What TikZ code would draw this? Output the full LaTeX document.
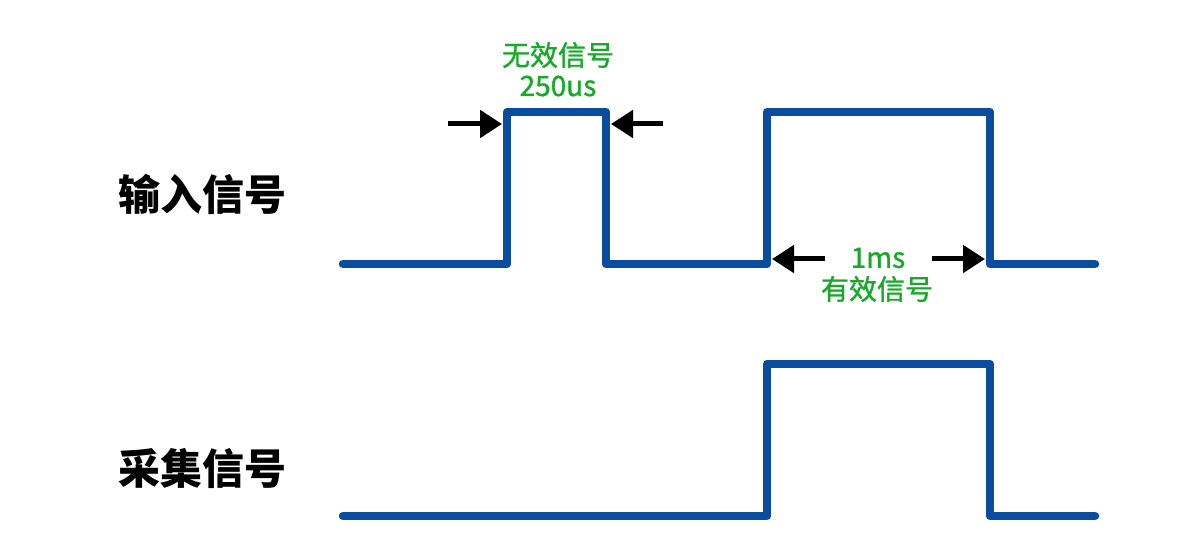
\documentclass[tikz,border=0pt]{standalone}
\usepackage{fontspec}
\setmainfont{Noto Sans CJK SC}
\newfontfamily\greenfont[FakeBold=1.2]{Noto Sans CJK SC}
\usetikzlibrary{arrows.meta}
\definecolor{sigblue}{RGB}{10,76,160}
\definecolor{txtgreen}{RGB}{22,170,40}
\tikzset{
  signal/.style={draw=sigblue, line width=8.5pt, line join=round, line cap=round},
  dimarrow/.style={draw=black, line width=5pt, -{Triangle[length=22pt,width=27pt]}},
  siglabel/.style={font=\fontsize{42}{46}\selectfont\bfseries, text=black, inner sep=0pt},
  greenlabel/.style={font=\greenfont\fontsize{28}{30}\selectfont, text=txtgreen, inner sep=0pt}
}
\begin{document}
\begin{tikzpicture}[x=1pt,y=-1pt]
\useasboundingbox (0,0) rectangle (1197,540);
% input signal
\coordinate (a0) at (343,264);
\coordinate (a1) at (507,264);
\coordinate (a2) at (507,112);
\coordinate (a3) at (606,112);
\coordinate (a4) at (606,264);
\coordinate (a5) at (767,264);
\coordinate (a6) at (767,112);
\coordinate (a7) at (990,112);
\coordinate (a8) at (990,264);
\coordinate (a9) at (1095,264);
\draw[signal] (a0) -- (a1) -- (a2) -- (a3) -- (a4) -- (a5) -- (a6) -- (a7) -- (a8) -- (a9);
% sampled signal
\coordinate (b0) at (343,516);
\coordinate (b1) at (767,516);
\coordinate (b2) at (767,364);
\coordinate (b3) at (990,364);
\coordinate (b4) at (990,516);
\coordinate (b5) at (1095,516);
\draw[signal] (b0) -- (b1) -- (b2) -- (b3) -- (b4) -- (b5);
% labels
\node[siglabel] (lin) at (202,194) {输入信号};
\node[siglabel] (lout) at (202,468) {采集信号};
% invalid pulse annotation
\node[greenlabel] (t1) at (558,55) {无效信号};
\node[greenlabel] (t2) at (558,86) {250us};
\coordinate (p1s) at (448,124);
\coordinate (p1e) at (502,124);
\coordinate (p2s) at (663,124);
\coordinate (p2e) at (611,124);
\draw[dimarrow] (p1s) -- (p1e);
\draw[dimarrow] (p2s) -- (p2e);
% valid pulse annotation
\node[greenlabel] (t3) at (878,258) {1ms};
\node[greenlabel] (t4) at (877,289) {有效信号};
\coordinate (q1s) at (825,259);
\coordinate (q1e) at (772,259);
\coordinate (q2s) at (932,259);
\coordinate (q2e) at (985,259);
\draw[dimarrow] (q1s) -- (q1e);
\draw[dimarrow] (q2s) -- (q2e);
\end{tikzpicture}
\end{document}
